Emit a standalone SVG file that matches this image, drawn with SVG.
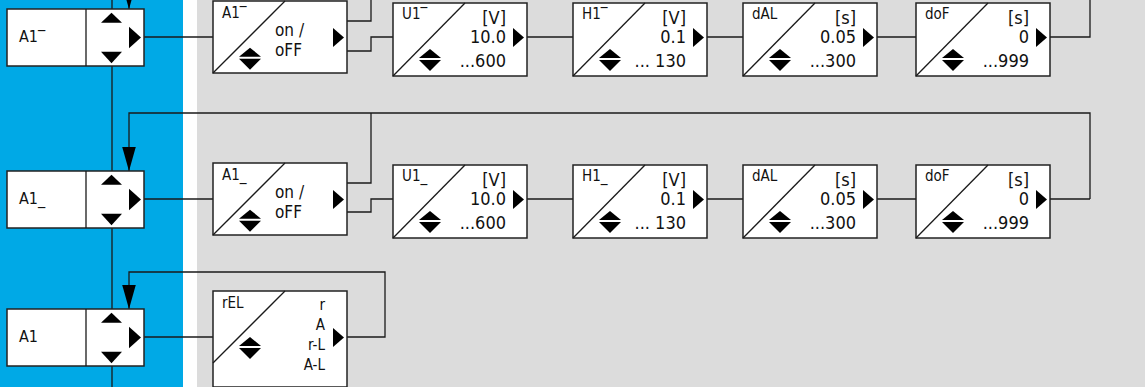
<svg xmlns="http://www.w3.org/2000/svg" width="1145" height="387" viewBox="0 0 1145 387">
<style>
.bx{fill:#fff;stroke:#222;stroke-width:1.5}
.ln{fill:none;stroke:#1a1a1a;stroke-width:1.3}
.dg{stroke:#1a1a1a;stroke-width:1.3}
.tri{fill:#000}
text{font-family:"Liberation Sans Narrow","DejaVu Sans Condensed","Liberation Sans",sans-serif;fill:#111}
.lb{font-size:15px}
.oo{font-size:17px}
.v{font-size:18px;text-anchor:end}
.sm{font-size:15px;text-anchor:end}
.ll{font-size:16px}
</style>
<defs>
<g id="ud"><polygon points="-11,9 11,9 0,0" class="tri"/><polygon points="-11,11 11,11 0,22" class="tri"/></g>
<polygon id="ra" points="0,-9.5 0,9.5 11,0" class="tri"/>
<g id="lnode"><rect x="7" y="0" width="137" height="57" class="bx"/><line x1="86" y1="0" x2="86" y2="57" class="dg"/><polygon points="101,13.7 122,13.7 111.5,3.7" class="tri"/><polygon points="101,42.7 122,42.7 111.5,54.3" class="tri"/><polygon points="129,17.7 129,39.3 141,28.5" class="tri"/></g>
<marker id="ah" markerUnits="userSpaceOnUse" markerWidth="24" markerHeight="14" refX="23" refY="6.5" orient="auto" viewBox="0 0 23 13"><polygon points="0,0 23,6.5 0,13" fill="#000"/></marker>
</defs>
<rect x="0" y="0" width="1145" height="387" fill="#dcdcdc"/>
<rect x="0" y="0" width="183" height="387" fill="#00a9e6"/>
<rect x="183" y="0" width="14" height="387" fill="#fff"/>
<g id="connectors">
<line x1="112" y1="0" x2="112" y2="387" class="ln"/>
<polyline points="129,-30 129,9" class="ln" marker-end="url(#ah)"/>
<polyline points="144,37 213,37" class="ln"/>
<polyline points="347,21 371,21 371,0" class="ln"/>
<polyline points="347,51 371,51 371,37 393,37" class="ln"/>
<polyline points="527,37 573,37" class="ln"/>
<polyline points="707,37 743,37" class="ln"/>
<polyline points="877,37 916,37" class="ln"/>
<polyline points="1050,37 1090,37 1090,0" class="ln"/>
<polyline points="1090,199 1090,113 129,113 129,171" class="ln" marker-end="url(#ah)"/>
<polyline points="144,199 213,199" class="ln"/>
<polyline points="347,183 371,183 371,113" class="ln"/>
<polyline points="347,212 371,212 371,199 393,199" class="ln"/>
<polyline points="527,199 573,199" class="ln"/>
<polyline points="707,199 743,199" class="ln"/>
<polyline points="877,199 916,199" class="ln"/>
<polyline points="1050,199 1090,199" class="ln"/>
<polyline points="144,337 213,337" class="ln"/>
<polyline points="347,337 385,337 385,272 129,272 129,309" class="ln" marker-end="url(#ah)"/>
</g>
<g id="n-a1hi"><use href="#lnode" y="9"/><text x="19" y="42" class="ll">A1‾</text></g>
<g id="n-a1lo"><use href="#lnode" y="171"/><text x="19" y="204" class="ll">A1_</text></g>
<g id="n-a1"><use href="#lnode" y="309"/><text x="19" y="342" class="ll">A1</text></g>

<g id="r1-onoff"><rect x="213" y="1" width="134" height="72" class="bx"/><line x1="213" y1="73" x2="285" y2="1" class="dg"/><use href="#ud" x="250" y="47.7"/><use href="#ra" x="333" y="37.5"/><text x="222" y="18" class="lb">A1‾</text><text x="275" y="36" class="oo">on /</text><text x="275" y="56" class="oo">oFF</text></g>
<g id="r1-u1"><rect x="393" y="3" width="134" height="73" class="bx"/><line x1="393" y1="76" x2="465" y2="3" class="dg"/><use href="#ud" x="430" y="49"/><use href="#ra" x="513" y="37.5"/><text x="402" y="19" class="lb">U1‾</text><text x="506" y="24" class="v">[V]</text><text x="506" y="43" class="v">10.0</text><text x="506" y="67" class="v">...600</text></g>
<g id="r1-h1"><rect x="573" y="3" width="134" height="73" class="bx"/><line x1="573" y1="76" x2="645" y2="3" class="dg"/><use href="#ud" x="610" y="49"/><use href="#ra" x="693" y="37.5"/><text x="582" y="19" class="lb">H1‾</text><text x="686" y="24" class="v">[V]</text><text x="686" y="43" class="v">0.1</text><text x="686" y="67" class="v">... 130</text></g>
<g id="r1-dal"><rect x="743" y="3" width="134" height="73" class="bx"/><line x1="743" y1="76" x2="815" y2="3" class="dg"/><use href="#ud" x="780" y="49"/><use href="#ra" x="863" y="37.5"/><text x="752" y="19" class="lb">dAL</text><text x="856" y="24" class="v">[s]</text><text x="856" y="43" class="v">0.05</text><text x="856" y="67" class="v">...300</text></g>
<g id="r1-dof"><rect x="916" y="3" width="134" height="73" class="bx"/><line x1="916" y1="76" x2="988" y2="3" class="dg"/><use href="#ud" x="953" y="49"/><use href="#ra" x="1036" y="37.5"/><text x="925" y="19" class="lb">doF</text><text x="1029" y="24" class="v">[s]</text><text x="1029" y="43" class="v">0</text><text x="1029" y="67" class="v">...999</text></g>

<g id="r2-onoff"><rect x="213" y="163" width="134" height="72" class="bx"/><line x1="213" y1="235" x2="285" y2="163" class="dg"/><use href="#ud" x="250" y="209.7"/><use href="#ra" x="333" y="199.5"/><text x="222" y="180" class="lb">A1_</text><text x="275" y="198" class="oo">on /</text><text x="275" y="218" class="oo">oFF</text></g>
<g id="r2-u1"><rect x="393" y="165" width="134" height="73" class="bx"/><line x1="393" y1="238" x2="465" y2="165" class="dg"/><use href="#ud" x="430" y="211"/><use href="#ra" x="513" y="199.5"/><text x="402" y="181" class="lb">U1_</text><text x="506" y="186" class="v">[V]</text><text x="506" y="205" class="v">10.0</text><text x="506" y="229" class="v">...600</text></g>
<g id="r2-h1"><rect x="573" y="165" width="134" height="73" class="bx"/><line x1="573" y1="238" x2="645" y2="165" class="dg"/><use href="#ud" x="610" y="211"/><use href="#ra" x="693" y="199.5"/><text x="582" y="181" class="lb">H1_</text><text x="686" y="186" class="v">[V]</text><text x="686" y="205" class="v">0.1</text><text x="686" y="229" class="v">... 130</text></g>
<g id="r2-dal"><rect x="743" y="165" width="134" height="73" class="bx"/><line x1="743" y1="238" x2="815" y2="165" class="dg"/><use href="#ud" x="780" y="211"/><use href="#ra" x="863" y="199.5"/><text x="752" y="181" class="lb">dAL</text><text x="856" y="186" class="v">[s]</text><text x="856" y="205" class="v">0.05</text><text x="856" y="229" class="v">...300</text></g>
<g id="r2-dof"><rect x="916" y="165" width="134" height="73" class="bx"/><line x1="916" y1="238" x2="988" y2="165" class="dg"/><use href="#ud" x="953" y="211"/><use href="#ra" x="1036" y="199.5"/><text x="925" y="181" class="lb">doF</text><text x="1029" y="186" class="v">[s]</text><text x="1029" y="205" class="v">0</text><text x="1029" y="229" class="v">...999</text></g>

<g id="r3-rel"><rect x="213" y="291" width="134" height="96" class="bx"/><line x1="213" y1="363" x2="285" y2="291" class="dg"/><use href="#ud" x="250" y="337"/><use href="#ra" x="333" y="337.5"/><text x="222" y="308" class="lb">rEL</text><text x="325" y="310" class="sm">r</text><text x="325" y="330" class="sm">A</text><text x="325" y="350" class="sm">r-L</text><text x="325" y="370" class="sm">A-L</text></g>
</svg>
